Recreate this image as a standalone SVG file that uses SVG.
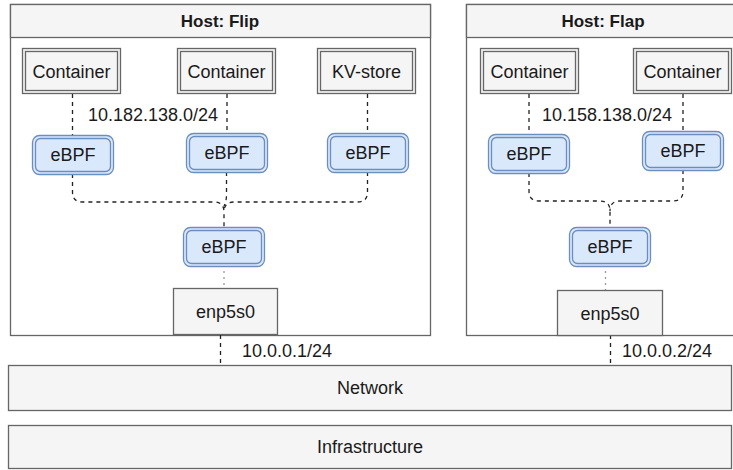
<svg xmlns="http://www.w3.org/2000/svg" width="733" height="470" viewBox="0 0 733 470">
<style>
text{font-family:"Liberation Sans",Arial,sans-serif;font-size:18px;fill:#1a1a1a;text-anchor:middle}
.title{font-weight:bold;font-size:17px}
.lbl{text-anchor:start}
.host{fill:#fff;stroke:#666;stroke-width:1.3}
.hdr{fill:#f5f5f5;stroke:#666;stroke-width:1.3}
.box{fill:#f5f5f5;stroke:#666;stroke-width:1.3}
.cin{fill:none;stroke:#666;stroke-width:1.3}
.eb{fill:#dae8fc;stroke:#6c8ebf;stroke-width:1.3}
.ebi{fill:none;stroke:#6c8ebf;stroke-width:1.3}
.dash{fill:none;stroke:#222;stroke-width:1.3;stroke-dasharray:4 4}
.dot{fill:none;stroke:#999;stroke-width:1.3;stroke-dasharray:2 4}
</style>
<defs>
<g id="cont"><rect class="box" x="0" y="0" width="98" height="45"/><rect class="cin" x="3" y="3" width="92" height="39"/></g>
<g id="ebpf"><rect class="eb" x="0" y="0" width="81" height="39" rx="7"/><rect class="ebi" x="3" y="3" width="75" height="33" rx="5"/></g>
</defs>

<g id="host-flip">
<rect class="host" x="10.5" y="4.5" width="420" height="331"/>
<rect class="hdr" x="10.5" y="4.5" width="420" height="33"/>
<text class="title" x="220" y="27">Host: Flip</text>
</g>
<g id="host-flap">
<rect class="host" x="466.5" y="4.5" width="274" height="331"/>
<rect class="hdr" x="466.5" y="4.5" width="274" height="33"/>
<text class="title" x="603" y="27">Host: Flap</text>
</g>

<g id="connectors">
<path class="dash" d="M72.5 94V135"/>
<path class="dash" d="M227 94V133"/>
<path class="dash" d="M367.5 94V133"/>
<path class="dash" d="M72.5 174V192Q72.5 202 82.5 202H214Q224 202 224 212V227"/>
<path class="dash" d="M226.5 172V194Q226.5 202 224 206"/>
<path class="dash" d="M367.5 172V192Q367.5 202 357.5 202H234Q224 202 224 212"/>
<path class="dot" d="M224 265V288"/>
<path class="dash" d="M220.5 335V366"/>
<path class="dash" d="M529 94V134"/>
<path class="dash" d="M683 94V131"/>
<path class="dash" d="M529 173V191Q529 201 539 201H600Q610 201 610 211V227"/>
<path class="dash" d="M683 170V191Q683 201 673 201H620Q610 201 610 211"/>
<path class="dot" d="M605.5 265V290"/>
<path class="dash" d="M610.5 335V366"/>
</g>

<g id="flip-container-1"><use href="#cont" x="22.5" y="48.5"/><text x="71.5" y="77.5">Container</text></g>
<g id="flip-container-2"><use href="#cont" x="177.5" y="48.5"/><text x="226.5" y="77.5">Container</text></g>
<g id="flip-kvstore"><use href="#cont" x="317.5" y="48.5"/><text x="366.5" y="77.5">KV-store</text></g>
<g id="flip-ebpf-1"><use href="#ebpf" x="32.5" y="135.5"/><text x="73" y="161">eBPF</text></g>
<g id="flip-ebpf-2"><use href="#ebpf" x="186.5" y="133.5"/><text x="227" y="159">eBPF</text></g>
<g id="flip-ebpf-3"><use href="#ebpf" x="327.5" y="133.5"/><text x="368" y="159">eBPF</text></g>
<g id="flip-ebpf-4"><use href="#ebpf" x="183.5" y="227.5"/><text x="224" y="253">eBPF</text></g>
<g id="flip-enp5s0"><rect class="box" x="173.5" y="288.5" width="104" height="46"/><text x="225.5" y="318">enp5s0</text></g>
<text class="lbl" x="88" y="121">10.182.138.0/24</text>
<text class="lbl" x="242" y="357">10.0.0.1/24</text>

<g id="flap-container-1"><use href="#cont" x="480.5" y="48.5"/><text x="529.5" y="77.5">Container</text></g>
<g id="flap-container-2"><use href="#cont" x="633.5" y="48.5"/><text x="682.5" y="77.5">Container</text></g>
<g id="flap-ebpf-1"><use href="#ebpf" x="488.5" y="134.5"/><text x="529" y="160">eBPF</text></g>
<g id="flap-ebpf-2"><use href="#ebpf" x="642.5" y="131.5"/><text x="683" y="157">eBPF</text></g>
<g id="flap-ebpf-4"><use href="#ebpf" x="569.5" y="227.5"/><text x="610" y="253">eBPF</text></g>
<g id="flap-enp5s0"><rect class="box" x="557.5" y="290.5" width="105" height="45"/><text x="610" y="320">enp5s0</text></g>
<text class="lbl" x="542" y="121">10.158.138.0/24</text>
<text class="lbl" x="622" y="357">10.0.0.2/24</text>

<g id="network"><rect class="box" x="8.5" y="365.5" width="723" height="45"/><text x="370" y="394">Network</text></g>
<g id="infrastructure"><rect class="box" x="8.5" y="425.5" width="723" height="43"/><text x="370" y="453">Infrastructure</text></g>
</svg>
